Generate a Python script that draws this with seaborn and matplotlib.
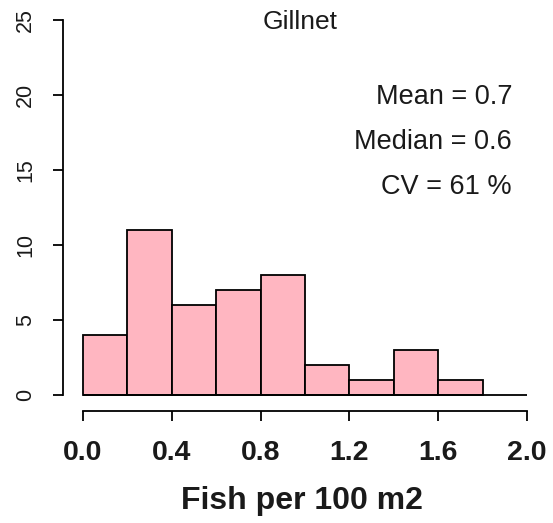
import matplotlib
matplotlib.use("Agg")
import matplotlib.pyplot as plt
import seaborn as sns

# Histogram of gillnet catch rates (bins of 0.2 fish per 100 m2)
bin_edges = [0.0, 0.2, 0.4, 0.6, 0.8, 1.0, 1.2, 1.4, 1.6, 1.8]
counts = [4, 11, 6, 7, 8, 2, 1, 3, 1]
x_ticks = [0.0, 0.4, 0.8, 1.2, 1.6, 2.0]
y_ticks = [0, 5, 10, 15, 20, 25]
title = "Gillnet"
stats_lines = ["Mean = 0.7", "Median = 0.6", "CV = 61 %"]
x_label = "Fish per 100 m2"

sns.set_theme(style="white")
plt.rcParams["font.family"] = ["Liberation Sans", "DejaVu Sans"]
plt.rcParams["text.color"] = "#1a1a1a"
plt.rcParams["axes.labelcolor"] = "#1a1a1a"
plt.rcParams["xtick.color"] = "black"
plt.rcParams["ytick.color"] = "black"
plt.rcParams["xtick.labelcolor"] = "#1a1a1a"
plt.rcParams["ytick.labelcolor"] = "#1a1a1a"

W, H = 553, 523
fig = plt.figure(figsize=(W / 100, H / 100), dpi=100)
# axes box in pixels: left 63, right 540, top 10, bottom 411
left, right, top, bottom = 63, 540, 10, 411
ax = fig.add_axes([left / W, 1 - bottom / H, (right - left) / W, (bottom - top) / H])

centers = [(a + b) / 2 for a, b in zip(bin_edges[:-1], bin_edges[1:])]
sns.histplot(x=centers, weights=counts, bins=bin_edges, ax=ax,
             color="#FFB6C1", edgecolor="black", linewidth=1.3, alpha=1.0)
ax.hlines(0, 0, 2.0, color="black", linewidth=1.3, zorder=3)

# pixel-to-data mapping: x 0->83px, 2->527px ; y 0->395px, 25->20px
xpx = 222.0
ypx = 15.0
ax.set_xlim((left - 83) / xpx, (right - 83) / xpx)
ax.set_ylim((395 - bottom) / ypx, (395 - top) / ypx)

for s in ["top", "right"]:
    ax.spines[s].set_visible(False)
ax.spines["left"].set_bounds(0, 25)
ax.spines["bottom"].set_bounds(0, 2.0)
for s in ["left", "bottom"]:
    ax.spines[s].set_color("black")
    ax.spines[s].set_linewidth(1.3)

ax.set_xticks(x_ticks)
ax.set_xticklabels([f"{v:.1f}" for v in x_ticks], fontsize=20.5, fontweight="bold")
ax.set_yticks(y_ticks)
ax.set_yticklabels([str(v) for v in y_ticks], fontsize=15.5, rotation=90, va="center")
ax.tick_params(axis="both", direction="out", length=7.2, width=1.3, color="black",
               bottom=True, left=True)
ax.tick_params(axis="x", pad=14)
ax.tick_params(axis="y", pad=12)
ax.set_ylabel("")
ax.set_xlabel(x_label, fontsize=23, fontweight="bold", labelpad=14)
ax.grid(False)

ax.text(300 / W, 1 - 22 / H, title, transform=fig.transFigure, ha="center",
        va="center", fontsize=19)
for i, line in enumerate(stats_lines):
    ax.text(512 / W, 1 - (97 + i * 45) / H, line, transform=fig.transFigure,
            ha="right", va="center", fontsize=19.5)

fig.savefig("out.png", dpi=100, facecolor="white")
